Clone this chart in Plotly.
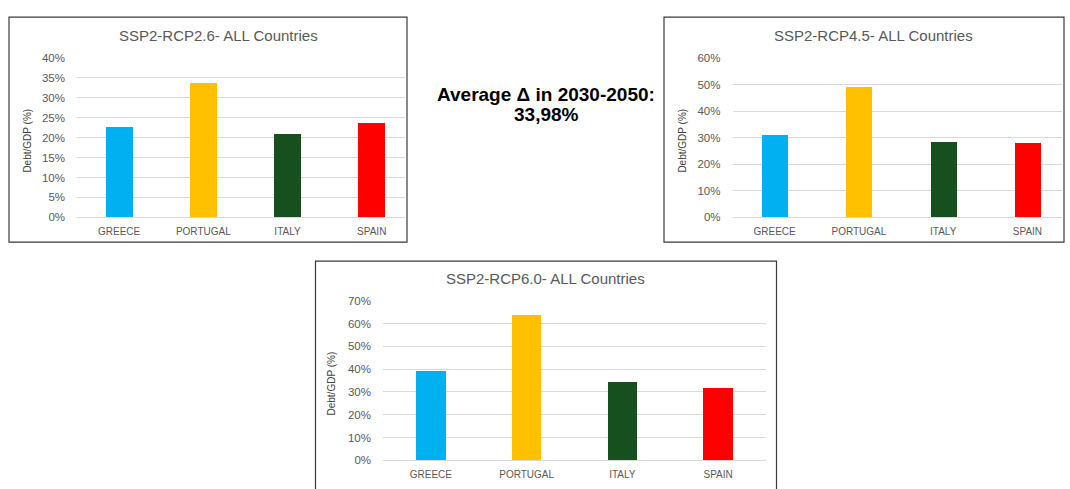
import plotly.graph_objects as go

W, H = 1070, 489

countries = ["GREECE", "PORTUGAL", "ITALY", "SPAIN"]
colors = ["#00B0F0", "#FFC000", "#17501F", "#FF0000"]

rcp26 = [0.226, 0.338, 0.210, 0.238]
rcp45 = [0.311, 0.492, 0.285, 0.279]
rcp60 = [0.393, 0.639, 0.346, 0.317]

titles = ["SSP2-RCP2.6- ALL Countries", "SSP2-RCP4.5- ALL Countries", "SSP2-RCP6.0- ALL Countries"]
y_max = [0.40, 0.60, 0.70]
y_step = [0.05, 0.10, 0.10]
note_lines = ["Average Δ in 2030-2050:", "33,98%"]


def px(x):
    return x / W


def py(y):
    return 1 - y / H


fig = go.Figure()

panels = [
    dict(vals=rcp26, xd=(77, 405), yd=(53.3, 216.7), xr=3.395, bw=0.32,
         tpos=(218, 30), ytx=28, box=(9, 11.5, 407, 242)),
    dict(vals=rcp45, xd=(732.5, 1062), yd=(53.3, 216.7), xr=3.41, bw=0.31,
         tpos=(873, 30), ytx=683, box=(664, 11.5, 1064, 242)),
    dict(vals=rcp60, xd=(383, 766), yd=(302.3, 465.7), xr=3.5, bw=0.31,
         tpos=(545, 279.5), ytx=332, box=(315.5, 261.5, 776.5, 500)),
]

annotations = []
shapes = []
for i, p in enumerate(panels):
    ax = "" if i == 0 else str(i + 1)
    fig.add_trace(go.Bar(
        x=countries, y=p["vals"], marker=dict(color=colors, line=dict(width=0)),
        width=p["bw"], xaxis="x" + ax, yaxis="y" + ax, showlegend=False,
    ))
    fig.update_layout(**{
        "xaxis" + ax: dict(
            domain=[px(p["xd"][0]), px(p["xd"][1])], range=[-0.5, p["xr"]],
            anchor="y" + ax, showgrid=False, zeroline=False, showline=False,
            ticks="outside", ticklen=5, tickcolor="rgba(0,0,0,0)",
            tickfont=dict(family="Liberation Sans, Arial", size=10, color="#595959"),
            fixedrange=True,
        ),
        "yaxis" + ax: dict(
            domain=[py(p["yd"][1]), py(p["yd"][0])], range=[0, y_max[i]],
            anchor="x" + ax, dtick=y_step[i], tickformat=".0%",
            showgrid=True, gridcolor="#D9D9D9", gridwidth=1,
            zeroline=True, zerolinecolor="#D9D9D9", zerolinewidth=1,
            showline=False, ticks="", ticklabelstandoff=11,
            tickfont=dict(family="Liberation Sans, Arial", size=11.5, color="#595959"),
            fixedrange=True,
        ),
    })
    annotations.append(dict(
        x=px(p["tpos"][0]), y=py(p["tpos"][1]), xref="paper", yref="paper",
        text=titles[i], showarrow=False, xanchor="center", yanchor="middle",
        font=dict(family="Liberation Sans, Arial", size=15, color="#595959"),
    ))
    annotations.append(dict(
        x=px(p["ytx"]), y=py((p["yd"][0] + p["yd"][1]) / 2 + 3), xref="paper", yref="paper",
        text="Debt/GDP (%)", textangle=-90, showarrow=False,
        xanchor="center", yanchor="middle",
        font=dict(family="Liberation Sans, Arial", size=10, color="#404040"),
    ))
    x0, y0, x1, y1 = p["box"]
    shapes.append(dict(
        type="rect", xref="paper", yref="paper",
        x0=px(x0), x1=px(x1), y0=py(y1), y1=py(y0),
        line=dict(color="#3A3A3A", width=1.2), fillcolor="rgba(0,0,0,0)", layer="above",
    ))

for line, ypos in zip(note_lines, [91, 111.5]):
    annotations.append(dict(
        x=px(546), y=py(ypos), xref="paper", yref="paper", text="<b>" + line + "</b>",
        showarrow=False, xanchor="center", yanchor="middle",
        font=dict(family="Liberation Sans, Arial", size=19, color="#000000"),
    ))

fig.update_layout(
    width=W, height=H, margin=dict(l=0, r=0, t=0, b=0),
    paper_bgcolor="white", plot_bgcolor="white",
    annotations=annotations, shapes=shapes, bargap=0,
)

fig.write_html(
    "out.html",
    config={"displayModeBar": False},
    post_script="document.body.style.margin='0';document.body.style.overflow='hidden';",
)
